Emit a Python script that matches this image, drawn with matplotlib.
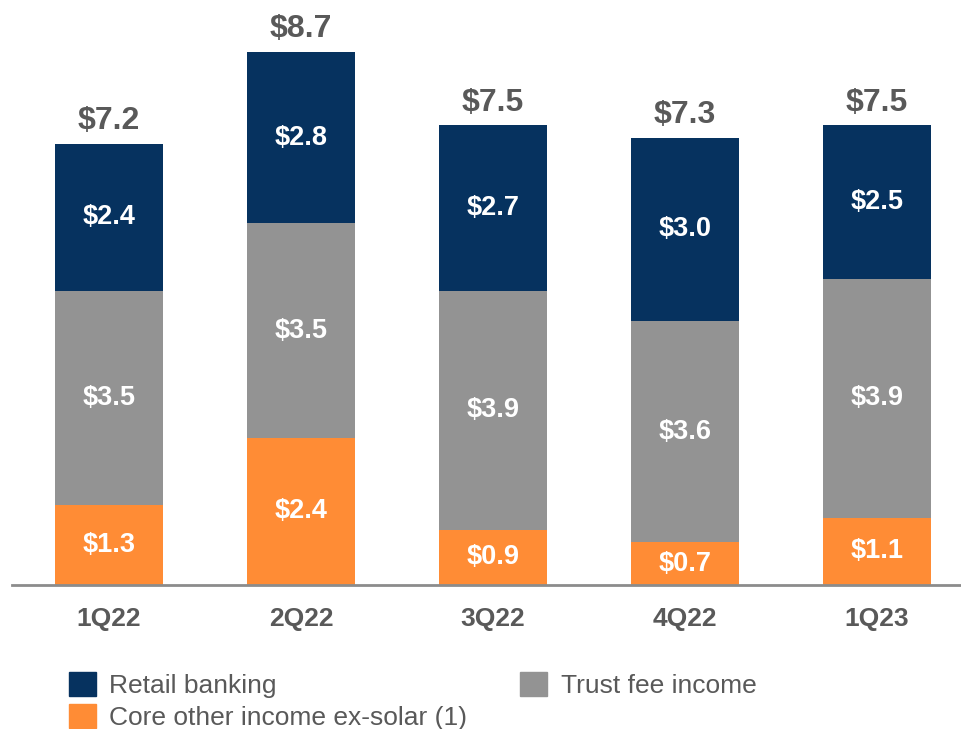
import matplotlib.pyplot as plt
from matplotlib.patches import Patch

plt.rcParams['font.family'] = ['Liberation Sans', 'DejaVu Sans']

quarters = ['1Q22', '2Q22', '3Q22', '4Q22', '1Q23']
core_other = [1.3, 2.4, 0.9, 0.7, 1.1]
trust_fee = [3.5, 3.5, 3.9, 3.6, 3.9]
retail = [2.4, 2.8, 2.7, 3.0, 2.5]
totals = [7.2, 8.7, 7.5, 7.3, 7.5]

navy = '#06325f'
grey = '#939393'
orange = '#ff8c35'
text_grey = '#595959'

W, H = 962, 729
fig = plt.figure(figsize=(W / 100, H / 100), dpi=100)
# axes from x=12..962 px, baseline at y=585 px
ax = fig.add_axes([12 / W, (H - 585) / H, 950 / W, 585 / H])

x = list(range(len(quarters)))
width = 0.5625

b1 = ax.bar(x, core_other, width, color=orange, zorder=2)
bottom2 = core_other
b2 = ax.bar(x, trust_fee, width, bottom=bottom2, color=grey, zorder=2)
bottom3 = [a + b for a, b in zip(core_other, trust_fee)]
b3 = ax.bar(x, retail, width, bottom=bottom3, color=navy, zorder=2)

# segment labels
for bars, vals, bots in [(b1, core_other, [0] * 5), (b2, trust_fee, bottom2), (b3, retail, bottom3)]:
    for xi, v, b in zip(x, vals, bots):
        ax.text(xi, b + v / 2, f'${v:.1f}', ha='center', va='center',
                color='white', fontsize=19.5, fontweight='bold')

# total labels
for xi, top, t in zip(x, [a + b for a, b in zip(bottom3, retail)], totals):
    ax.text(xi, top + 0.12, f'${t:.1f}', ha='center', va='bottom',
            color=text_grey, fontsize=23, fontweight='bold')

ax.set_xlim(-0.505, 4.443)
ax.set_ylim(0, 585 / 61.3)
ax.set_xticks(x)
ax.set_xticklabels(quarters, fontsize=19, fontweight='bold', color=text_grey)
ax.tick_params(axis='x', length=0, pad=16)
ax.set_yticks([])
for s in ['top', 'right', 'left']:
    ax.spines[s].set_visible(False)
ax.spines['bottom'].set_color('#8c8c8c')
ax.spines['bottom'].set_linewidth(2)
ax.spines['bottom'].set_zorder(3)

handles = [Patch(color=navy, label='Retail banking'),
           Patch(color=orange, label='Core other income ex-solar (1)'),
           Patch(color=grey, label='Trust fee income')]
leg = fig.legend(handles=handles, ncol=2, loc='upper left',
                 bbox_to_anchor=(69 / W, 1 - 672 / H), frameon=False,
                 fontsize=19, handlelength=1.03, handleheight=1.03,
                 handletextpad=0.5, columnspacing=2.0, labelspacing=0.22,
                 borderaxespad=0, borderpad=0)
for t in leg.get_texts():
    t.set_color(text_grey)

fig.savefig('out.png', dpi=100)
